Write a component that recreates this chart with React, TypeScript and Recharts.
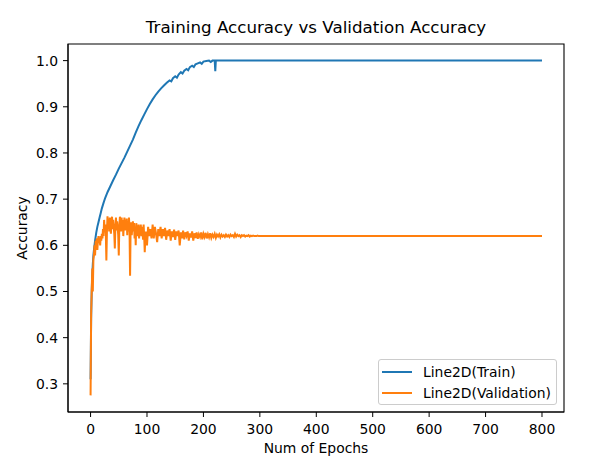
import { LineChart, Line, XAxis, YAxis, Legend, ReferenceArea } from 'recharts';

// training accuracy, read at irregular epochs
const trainEpochs = [0, 1, 2, 3, 4, 5, 6, 8, 10, 12, 14, 16, 18, 20, 23, 26, 30, 35, 40, 45, 50, 55, 60, 65, 70, 75, 80, 85, 90, 95, 100, 105, 110, 115, 120, 125, 130, 135, 140, 143, 146, 150, 153, 156, 160, 163, 166, 170, 173, 176, 180, 183, 186, 190, 194, 197, 200, 205, 210, 213, 216, 220, 221, 222, 800];
const trainAcc = [0.31, 0.44, 0.5, 0.535, 0.56, 0.578, 0.59, 0.61, 0.627, 0.64, 0.65, 0.66, 0.67, 0.68, 0.692, 0.703, 0.715, 0.728, 0.741, 0.753, 0.766, 0.778, 0.79, 0.803, 0.816, 0.829, 0.844, 0.858, 0.871, 0.883, 0.895, 0.906, 0.916, 0.925, 0.933, 0.94, 0.946, 0.952, 0.957, 0.955, 0.962, 0.966, 0.963, 0.97, 0.975, 0.972, 0.978, 0.982, 0.979, 0.986, 0.989, 0.986, 0.992, 0.994, 0.996, 0.993, 0.998, 0.999, 1.0, 0.997, 1.0, 1.0, 0.977, 1.0, 1.0];

// validation accuracy, one value per epoch for epochs 0-99
const valEarly = [
  0.275, 0.45, 0.5, 0.55, 0.5, 0.57, 0.58, 0.6, 0.578, 0.61,
  0.6, 0.615, 0.59, 0.61, 0.62, 0.605, 0.615, 0.6, 0.62, 0.61,
  0.625, 0.615, 0.635, 0.62, 0.655, 0.63, 0.645, 0.625, 0.567, 0.63,
  0.663, 0.64, 0.655, 0.63, 0.66, 0.64, 0.625, 0.65, 0.662, 0.635,
  0.655, 0.64, 0.625, 0.593, 0.64, 0.66, 0.632, 0.652, 0.64, 0.622,
  0.578, 0.64, 0.662, 0.65, 0.63, 0.66, 0.64, 0.655, 0.62, 0.645,
  0.66, 0.632, 0.652, 0.64, 0.658, 0.622, 0.65, 0.63, 0.66, 0.64,
  0.534, 0.64, 0.65, 0.622, 0.64, 0.652, 0.63, 0.648, 0.615, 0.64,
  0.6, 0.648, 0.63, 0.64, 0.62, 0.645, 0.615, 0.64, 0.628, 0.645,
  0.62, 0.64, 0.63, 0.612, 0.645, 0.62, 0.585, 0.615, 0.63, 0.62,
];
// validation accuracy every 2 epochs for epochs 100-298
const valLate = [
  0.6, 0.64, 0.62, 0.635, 0.615, 0.645, 0.615, 0.64, 0.625, 0.607,
  0.635, 0.62, 0.64, 0.615, 0.635, 0.62, 0.638, 0.612, 0.632, 0.62,
  0.635, 0.61, 0.63, 0.618, 0.634, 0.612, 0.63, 0.62, 0.632, 0.6,
  0.628, 0.615, 0.632, 0.613, 0.628, 0.62, 0.63, 0.61, 0.626, 0.617,
  0.63, 0.61, 0.626, 0.616, 0.628, 0.614, 0.624, 0.618, 0.628, 0.613,
  0.625, 0.618, 0.627, 0.615, 0.624, 0.617, 0.626, 0.616, 0.623, 0.618,
  0.625, 0.616, 0.623, 0.619, 0.624, 0.617, 0.623, 0.619, 0.622, 0.618,
  0.623, 0.619, 0.622, 0.618, 0.623, 0.62, 0.622, 0.618, 0.625, 0.619,
  0.623, 0.62, 0.622, 0.618, 0.622, 0.62, 0.622, 0.619, 0.621, 0.62,
  0.622, 0.619, 0.621, 0.62, 0.621, 0.62, 0.62, 0.62, 0.621, 0.62,
];
const valTailEpochs = [300, 800];
const valTail = [0.62, 0.62];

const xTicks = [0, 100, 200, 300, 400, 500, 600, 700, 800];
const yTicks = [0.3, 0.4, 0.5, 0.6, 0.7, 0.8, 0.9, 1.0];

const FONT = '"DejaVu Sans", sans-serif';
const BLUE = '#1f77b4';
const ORANGE = '#ff7f0e';

const trainData = trainEpochs.map((epoch, i) => ({ epoch, train: trainAcc[i] }));
const valData = [
  ...valEarly.map((v, i) => ({ epoch: i, val: v })),
  ...valLate.map((v, i) => ({ epoch: 100 + i * 2, val: v })),
  ...valTailEpochs.map((epoch, i) => ({ epoch, val: valTail[i] })),
];

function MplLegend() {
  const items = [
    { name: 'Line2D(Train)', color: BLUE },
    { name: 'Line2D(Validation)', color: ORANGE },
  ];
  return (
    <div
      style={{
        width: 177,
        height: 44,
        border: '1px solid #cccccc',
        borderRadius: 3,
        background: 'rgba(255,255,255,0.8)',
        fontFamily: FONT,
        fontSize: 13.9,
        color: '#000',
        boxSizing: 'content-box',
      }}
    >
      {items.map((it, i) => (
        <div key={it.name} style={{ position: 'absolute', left: 4, top: 3 + i * 20.7, height: 20, display: 'flex', alignItems: 'center' }}>
          <div style={{ width: 30, height: 2, background: it.color }} />
          <span style={{ marginLeft: 11, lineHeight: '20px', whiteSpace: 'nowrap' }}>{it.name}</span>
        </div>
      ))}
    </div>
  );
}

export default function App() {
  return (
    <div style={{ position: 'absolute', left: 0, top: 0, width: 611, height: 463, background: '#fff' }}>
      <LineChart width={611} height={463} margin={{ top: 44, right: 47, bottom: 0, left: 8 }}>
        <XAxis
          dataKey="epoch"
          type="number"
          domain={[-40, 839]}
          ticks={xTicks}
          allowDataOverflow
          height={51}
          tickSize={5}
          tickMargin={7}
          stroke="#000"
          tick={{ fill: '#000', fontSize: 13.9, fontFamily: FONT }}
          label={{ value: 'Num of Epochs', position: 'insideBottom', offset: 10, fill: '#000', fontSize: 13.9, fontFamily: FONT }}
        />
        <YAxis
          type="number"
          domain={[0.239, 1.036]}
          ticks={yTicks}
          allowDataOverflow
          width={60}
          tickSize={5}
          tickMargin={5}
          stroke="#000"
          tickFormatter={(v: number) => v.toFixed(1)}
          tick={{ fill: '#000', fontSize: 13.9, fontFamily: FONT }}
          label={{ value: 'Accuracy', angle: -90, position: 'insideLeft', offset: 14, fill: '#000', fontSize: 13.9, fontFamily: FONT, style: { textAnchor: 'middle' } }}
        />
        <Line data={trainData} dataKey="train" name="Line2D(Train)" stroke={BLUE} strokeWidth={2} dot={false} isAnimationActive={false} type="linear" />
        <Line data={valData} dataKey="val" name="Line2D(Validation)" stroke={ORANGE} strokeWidth={2} dot={false} isAnimationActive={false} type="linear" />
        <ReferenceArea x1={-40} x2={839} y1={0.239} y2={1.036} fill="none" stroke="#000" strokeWidth={1.1} />
        <Legend
          layout="horizontal"
          align="center"
          verticalAlign="middle"
          content={() => <MplLegend />}
          wrapperStyle={{ position: 'absolute', left: 378, top: 359, width: 179, height: 46 }}
        />
      </LineChart>
      <div
        style={{
          position: 'absolute',
          left: 68,
          width: 496,
          top: 17,
          textAlign: 'center',
          fontFamily: FONT,
          fontSize: 16.7,
          lineHeight: '20px',
          color: '#000',
        }}
      >
        Training Accuracy vs Validation Accuracy
      </div>
    </div>
  );
}
